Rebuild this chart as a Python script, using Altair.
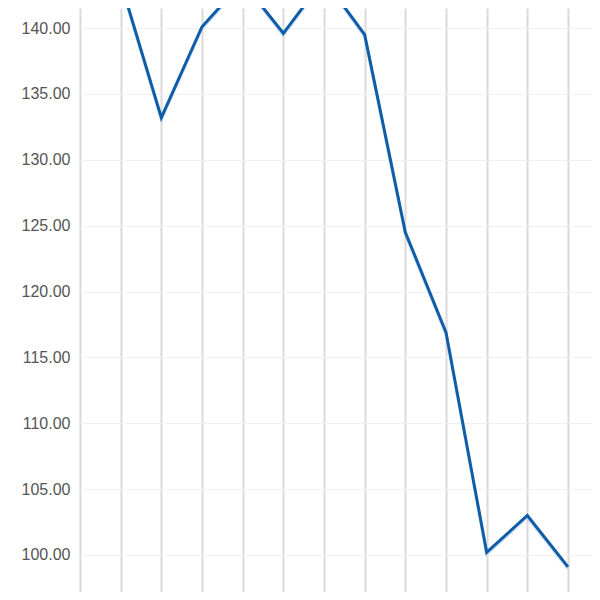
import altair as alt
import pandas as pd

idx = [0, 1, 2, 3, 4, 5, 6, 7, 8, 9, 10, 11, 12]
values = [145.0, 143.5, 133.2, 140.1, 143.5, 139.6, 143.7, 139.5, 124.5, 116.9, 100.2, 103.0, 99.1]
y_ticks = [100, 105, 110, 115, 120, 125, 130, 135, 140]

df = pd.DataFrame({"i": idx, "v": values})

x = alt.X("i:Q", scale=alt.Scale(domain=[0, 12.59], nice=False, zero=False),
          axis=alt.Axis(values=idx, labels=False, ticks=False, domain=False, title=None,
                        grid=True, gridColor="#dadada", gridWidth=2))
y = alt.Y("v:Q", scale=alt.Scale(domain=[97.19, 141.52], nice=False, zero=False),
          axis=alt.Axis(values=y_ticks, format=".2f", title=None, domain=False, ticks=False,
                        grid=True, gridColor="#f0f0f0", gridWidth=1,
                        labelFont="Liberation Sans", labelFontSize=16, labelColor="#555555",
                        labelPadding=10))

shadow = alt.Chart(df).mark_line(clip=True, color="#9fbde0", opacity=0.45, strokeWidth=3, yOffset=2).encode(x=x, y=y)
line = alt.Chart(df).mark_line(clip=True, color="#0f5ca8", strokeWidth=3).encode(x=x, y=y)

chart = (shadow + line).properties(
    width=512, height=584,
    autosize=alt.AutoSizeParams(type="none"),
    padding={"left": 72, "top": 0, "right": 0, "bottom": 0},
).configure_view(stroke=None)

chart.save("out.html", embed_options={"renderer": "svg", "actions": False})
